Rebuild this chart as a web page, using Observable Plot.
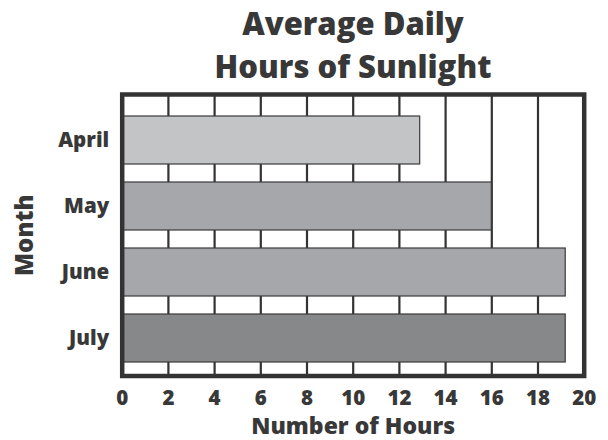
<!DOCTYPE html>
<html><head><meta charset="utf-8">
<script src="https://cdn.jsdelivr.net/npm/d3@7"></script>
<script src="https://cdn.jsdelivr.net/npm/@observablehq/plot@0.6"></script>
<style>
body{margin:0;background:#fff;font-family:"Open Sans",sans-serif;}
#title{box-sizing:border-box;height:86px;padding-top:1.5px;margin-left:122px;width:462px;text-align:center;font-weight:800;font-size:31px;line-height:43px;color:#383838;}
#chart svg{display:block;}
</style></head><body>
<div id="title">Average Daily<br>Hours of Sunlight</div>
<div id="chart"></div>
<script>
const months = ["April", "May", "June", "July"];
const hours = [12.9, 16.0, 19.2, 19.2];
const xTicks = [0, 2, 4, 6, 8, 10, 12, 14, 16, 18, 20];
const gridTicks = [2, 4, 6, 8, 10, 12, 14, 16, 18];
const barColors = ["#c3c4c6", "#a6a7aa", "#a6a7aa", "#87888a"];
const xLabel = "Number of Hours";
const yLabel = "Month";

const data = months.map((m, i) => ({month: m, hours: hours[i]}));

const chart = Plot.plot({
  width: 608,
  height: 354,
  marginTop: 8,
  marginBottom: 64.5,
  marginLeft: 121.7,
  marginRight: 24.3,
  style: {fontFamily: "'Open Sans', sans-serif", fontWeight: 800, color: "#383838", background: "#fff"},
  x: {domain: [0, 20]},
  y: {domain: months, paddingInner: 0.28, paddingOuter: 0.2535, align: 0.6},
  color: {domain: months, range: barColors},
  marks: [
    Plot.ruleX(gridTicks, {x: d => d, stroke: "#333", strokeWidth: 2.2}),
    Plot.barX(data, {x: "hours", y: "month", fill: "month", stroke: "#3a3a3a", strokeWidth: 1.2}),
    Plot.frame({stroke: "#333", strokeWidth: 4.5}),
    Plot.axisX({ticks: xTicks, tickSize: 0, tickPadding: 14.5, fontSize: 20.5, fontWeight: 800, label: null, tickFormat: d => String(d)}),
    Plot.axisY({tickSize: 0, tickPadding: 13, fontSize: 20.5, fontWeight: 800, label: null}),
    Plot.text([xLabel], {text: d => d, frameAnchor: "bottom", lineAnchor: "middle", textAnchor: "middle", dy: 50.6, fontSize: 23, fontWeight: 800, fill: "#383838"}),
    Plot.text([yLabel], {text: d => d, frameAnchor: "left", lineAnchor: "middle", textAnchor: "middle", dx: -96.4, rotate: -90, fontSize: 24, fontWeight: 800, fill: "#383838"})
  ]
});
document.getElementById("chart").appendChild(chart);
</script>
</body></html>
